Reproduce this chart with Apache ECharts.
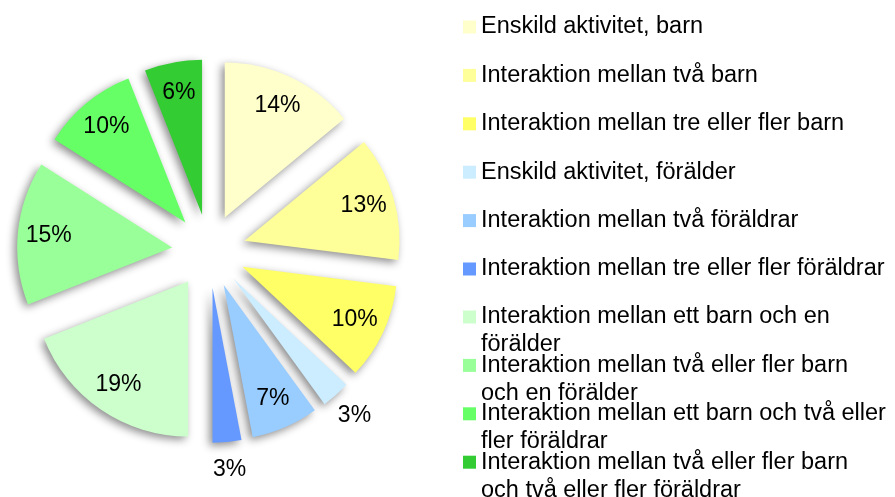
<!DOCTYPE html>
<html>
<head>
<meta charset="utf-8">
<script src="https://cdn.jsdelivr.net/npm/echarts@6/dist/echarts.min.js"></script>
<style>
  html, body { margin: 0; padding: 0; background: #ffffff; }
  #chart { width: 895px; height: 497px; }
</style>
</head>
<body>
<div id="chart"></div>
<script>
const categories = [
  'Enskild aktivitet, barn',
  'Interaktion mellan två barn',
  'Interaktion mellan tre eller fler barn',
  'Enskild aktivitet, förälder',
  'Interaktion mellan två föräldrar',
  'Interaktion mellan tre eller fler föräldrar',
  'Interaktion mellan ett barn och en förälder',
  'Interaktion mellan två eller fler barn och en förälder',
  'Interaktion mellan ett barn och två eller fler föräldrar',
  'Interaktion mellan två eller fler barn och två eller fler föräldrar'
];
const values = [14, 13, 10, 3, 7, 3, 19, 15, 10, 6];
const colors = ['#FFFFCC', '#FFFF99', '#FFFF66', '#CCECFF', '#99CCFF', '#6699FF', '#CCFFCC', '#99FF99', '#66FF66', '#33CC33'];

const chart = echarts.init(document.getElementById('chart'), null, { renderer: 'canvas' });

const center = [209, 251];
const offset = 37;
const FONT = 'Liberation Sans, Arial, sans-serif';
const LEGEND_FS = 23.5;
const WRAP_W = 408;

// simple greedy word wrap using canvas text metrics
const mctx = document.createElement('canvas').getContext('2d');
mctx.font = LEGEND_FS + 'px "Liberation Sans", Arial, sans-serif';
function wrap(text, maxW) {
  const words = text.split(' ');
  const lines = [];
  let line = '';
  words.forEach(w => {
    const test = line ? line + ' ' + w : w;
    if (line && mctx.measureText(test).width > maxW) {
      lines.push(line);
      line = w;
    } else {
      line = test;
    }
  });
  if (line) lines.push(line);
  return lines.join('\n');
}

const mainData = categories.map((n, i) => ({
  name: n, value: values[i], selected: true,
  itemStyle: { color: colors[i] }
}));
function labelData(showFn) {
  return categories.map((n, i) => ({
    name: n, value: values[i], selected: true,
    itemStyle: { color: 'rgba(0,0,0,0)' },
    label: { show: showFn(values[i]) }
  }));
}
const labelStyle = {
  position: 'inside',
  formatter: p => p.value + '%',
  color: '#000',
  fontFamily: FONT,
  fontSize: 23
};

const legendText = {
  color: '#000',
  fontFamily: FONT,
  fontSize: LEGEND_FS,
  lineHeight: 28
};

const option = {
  animation: false,
  backgroundColor: '#ffffff',
  legend: [
    {
      data: categories.slice(0, 6),
      orient: 'vertical',
      left: 463, top: 13,
      padding: 0,
      itemWidth: 13, itemHeight: 13,
      itemGap: 20.4,
      icon: 'rect',
      selectedMode: false,
      textStyle: legendText
    },
    {
      data: categories.slice(6),
      orient: 'vertical',
      left: 463, top: 275,
      height: 400,
      padding: 0,
      itemWidth: 13, itemHeight: 13,
      itemGap: -35.6,
      icon: 'rect',
      selectedMode: false,
      formatter: n => '\n' + wrap(n, WRAP_W),
      textStyle: legendText
    }
  ],
  series: [
    {
      type: 'pie',
      center: center,
      radius: 155,
      startAngle: 90,
      clockwise: true,
      selectedMode: 'multiple',
      selectedOffset: offset,
      avoidLabelOverlap: false,
      label: { show: false },
      labelLine: { show: false },
      emphasis: { disabled: true },
      itemStyle: {
        borderWidth: 0,
        shadowBlur: 8,
        shadowColor: 'rgba(0,0,0,0.45)',
        shadowOffsetX: -3,
        shadowOffsetY: 3
      },
      data: mainData
    },
    {
      type: 'pie',
      silent: true,
      center: center,
      radius: [110, 132],
      startAngle: 90,
      clockwise: true,
      selectedMode: 'multiple',
      selectedOffset: offset,
      avoidLabelOverlap: false,
      legendHoverLink: false,
      emphasis: { disabled: true },
      label: labelStyle,
      labelLine: { show: false },
      data: labelData(v => v >= 5)
    },
    {
      type: 'pie',
      silent: true,
      center: center,
      radius: [171, 189],
      startAngle: 90,
      clockwise: true,
      selectedMode: 'multiple',
      selectedOffset: offset,
      avoidLabelOverlap: false,
      legendHoverLink: false,
      emphasis: { disabled: true },
      label: labelStyle,
      labelLine: { show: false },
      data: labelData(v => v < 5)
    }
  ]
};
chart.setOption(option);
</script>
</body>
</html>
